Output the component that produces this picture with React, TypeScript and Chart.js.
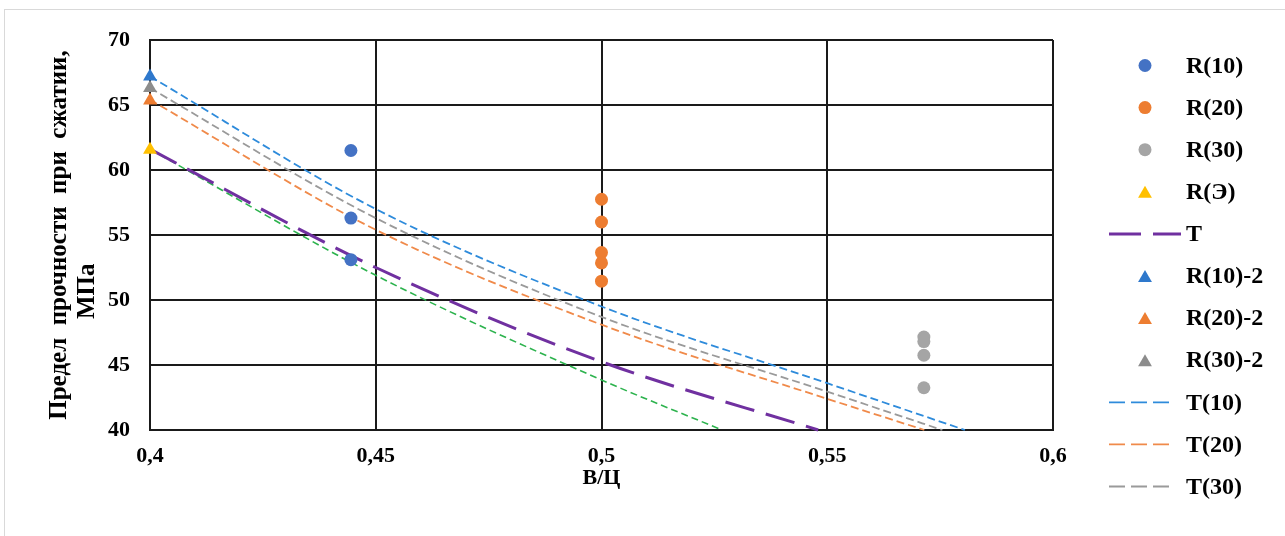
import React, { useEffect, useRef } from 'react';
import { Chart, registerables } from 'chart.js';

Chart.register(...registerables);

// ---- tick labels ----
const xTickLabels = ['0,4', '0,45', '0,5', '0,55', '0,6'];
const yTickLabels = ['40', '45', '50', '55', '60', '65', '70'];

// ---- measured points ----
const r10X = [0.4445, 0.4445, 0.4445];
const r10Y = [61.5, 56.3, 53.1];
const r20X = [0.5, 0.5, 0.5, 0.5, 0.5];
const r20Y = [57.75, 56.0, 53.65, 52.85, 51.45];
const r30X = [0.5714, 0.5714, 0.5714, 0.5714];
const r30Y = [47.15, 46.8, 45.75, 43.25];
const rEX = [0.4];
const rEY = [61.55];
const r10bX = [0.4];
const r10bY = [67.2];
const r20bX = [0.4];
const r20bY = [65.35];
const r30bX = [0.4];
const r30bY = [66.3];

// ---- theoretical curves ----
const tX = [0.4, 0.45, 0.5, 0.548];
const tY = [61.6, 52.5, 45.25, 40];
const t10X = [0.4, 0.45, 0.5, 0.55, 0.5805];
const t10Y = [67.2, 57.0, 49.5, 43.6, 40];
const t20X = [0.4, 0.45, 0.5, 0.55, 0.5715];
const t20Y = [65.4, 55.4, 48.1, 42.4, 40];
const t30X = [0.4, 0.45, 0.5, 0.55, 0.5755];
const t30Y = [66.3, 56.3, 48.7, 42.95, 40];
const tEX = [0.4, 0.45, 0.5, 0.5267];
const tEY = [61.6, 51.9, 43.85, 40];

const FONT = '"Liberation Serif", "Times New Roman", serif';

const pts = (xs: number[], ys: number[]) => xs.map((x, i) => ({ x, y: ys[i] }));

const marker = (label: string, xs: number[], ys: number[], color: string, style: string) => ({
  label,
  data: pts(xs, ys),
  showLine: false,
  pointStyle: style,
  pointRadius: style === 'triangle' ? 8 : 6.5,
  pointHoverRadius: style === 'triangle' ? 8 : 6.5,
  pointBackgroundColor: color,
  pointBorderColor: color,
  pointBorderWidth: 0,
  backgroundColor: color,
  borderColor: color,
  clip: false as const,
});

const curve = (
  label: string,
  xs: number[],
  ys: number[],
  color: string,
  width: number,
  dash: number[],
  legendDash: number[],
  legendLen: number,
  legendHidden = false
) => ({
  label,
  data: pts(xs, ys),
  showLine: true,
  pointRadius: 0,
  pointHoverRadius: 0,
  borderColor: color,
  backgroundColor: color,
  borderWidth: width,
  borderDash: dash,
  cubicInterpolationMode: 'monotone' as const,
  fill: false,
  legendDash,
  legendLen,
  legendHidden,
  clip: false as const,
});

const sideLegend = {
  id: 'sideLegend',
  afterDraw(chart: any) {
    const { ctx, chartArea } = chart;
    const items = chart.data.datasets.filter((d: any) => !d.legendHidden);
    ctx.save();
    ctx.font = `bold 24px ${FONT}`;
    ctx.textBaseline = 'middle';
    ctx.textAlign = 'left';
    items.forEach((ds: any, i: number) => {
      const y = chartArea.top + 25.5 + i * 42.1;
      const mx = chartArea.right + 92;
      if (ds.showLine) {
        const x0 = chartArea.right + 56;
        ctx.strokeStyle = ds.borderColor;
        ctx.lineWidth = ds.borderWidth;
        ctx.setLineDash(ds.legendDash);
        ctx.beginPath();
        ctx.moveTo(x0, y);
        ctx.lineTo(x0 + ds.legendLen, y);
        ctx.stroke();
        ctx.setLineDash([]);
      } else {
        ctx.fillStyle = ds.pointBackgroundColor;
        ctx.beginPath();
        if (ds.pointStyle === 'triangle') {
          const r = 8;
          ctx.moveTo(mx, y - r + 2);
          ctx.lineTo(mx + r * Math.sin((2 * Math.PI) / 3), y + 2 - r * Math.cos((2 * Math.PI) / 3));
          ctx.lineTo(mx + r * Math.sin((4 * Math.PI) / 3), y + 2 - r * Math.cos((4 * Math.PI) / 3));
          ctx.closePath();
        } else {
          ctx.arc(mx, y, 6.5, 0, Math.PI * 2);
        }
        ctx.fill();
      }
      ctx.fillStyle = '#000';
      ctx.fillText(ds.label, chartArea.right + 133, y + 1);
    });
    ctx.restore();
  },
};

export default function App() {
  const ref = useRef<HTMLCanvasElement | null>(null);

  useEffect(() => {
    if (!ref.current) return;
    const datasets: any[] = [
      marker('R(10)', r10X, r10Y, '#4472C4', 'circle'),
      marker('R(20)', r20X, r20Y, '#ED7D31', 'circle'),
      marker('R(30)', r30X, r30Y, '#A5A5A5', 'circle'),
      marker('R(Э)', rEX, rEY, '#FFC000', 'triangle'),
      curve('T', tX, tY, '#7030A0', 3, [30, 12], [32, 12], 72),
      marker('R(10)-2', r10bX, r10bY, '#2E78CC', 'triangle'),
      marker('R(20)-2', r20bX, r20bY, '#ED7D31', 'triangle'),
      marker('R(30)-2', r30bX, r30bY, '#8C8C8C', 'triangle'),
      curve('T(10)', t10X, t10Y, '#2E8BDB', 1.8, [8, 4], [16, 6], 60),
      curve('T(20)', t20X, t20Y, '#F08A4A', 1.8, [8, 4], [16, 6], 60),
      curve('T(30)', t30X, t30Y, '#9A9A9A', 1.8, [8, 4], [16, 6], 60),
      curve('T(Э)', tEX, tEY, '#2DB34E', 1.6, [7, 4], [16, 6], 60, true),
    ];
    const chart = new Chart(ref.current, {
      type: 'scatter',
      data: { datasets },
      plugins: [sideLegend],
      options: {
        responsive: false,
        animation: false,
        events: [],
        layout: { padding: { left: 0, top: 30, right: 232, bottom: 0 } },
        plugins: {
          legend: { display: false },
          tooltip: { enabled: false },
        },
        scales: {
          x: {
            type: 'linear',
            min: 0.4,
            max: 0.6,
            ticks: {
              stepSize: 0.05,
              padding: 13,
              color: '#000',
              font: { family: FONT, size: 22, weight: 'bold', lineHeight: 1.2 },
              callback: (_v: any, i: number) => xTickLabels[i],
            },
            grid: { color: '#1a1a1a', lineWidth: 2, drawTicks: false },
            border: { color: '#1a1a1a', width: 2 },
            title: {
              display: true,
              text: 'В/Ц',
              color: '#000',
              font: { family: FONT, size: 22, weight: 'bold', lineHeight: 1.2 },
              padding: { top: 0, bottom: 44 },
            },
            afterFit: (s: any) => { s.height = 106; },
          },
          y: {
            type: 'linear',
            min: 40,
            max: 70,
            ticks: {
              stepSize: 5,
              padding: 20,
              color: '#000',
              font: { family: FONT, size: 22, weight: 'bold', lineHeight: 0.4 },
              callback: (_v: any, i: number) => yTickLabels[i],
            },
            grid: { color: '#1a1a1a', lineWidth: 2, drawTicks: false },
            border: { color: '#1a1a1a', width: 2 },
            title: {
              display: true,
              text: ['Предел  прочности  при  сжатии,', 'МПа' + ' '.repeat(18)],
              color: '#000',
              font: { family: FONT, size: 25, weight: 'bold', lineHeight: 1.1 },
              padding: { top: 41, bottom: 0 },
            },
            afterFit: (s: any) => { s.width = 145; },
          },
        },
      } as any,
    });
    return () => chart.destroy();
  }, []);

  return (
    <div
      style={{
        position: 'fixed',
        left: 4,
        top: 9,
        width: 1300,
        height: 540,
        border: '1px solid #d9d9d9',
        background: '#fff',
      }}
    >
      <canvas ref={ref} width={1280} height={526} style={{ display: 'block', width: 1280, height: 526 }} />
    </div>
  );
}
